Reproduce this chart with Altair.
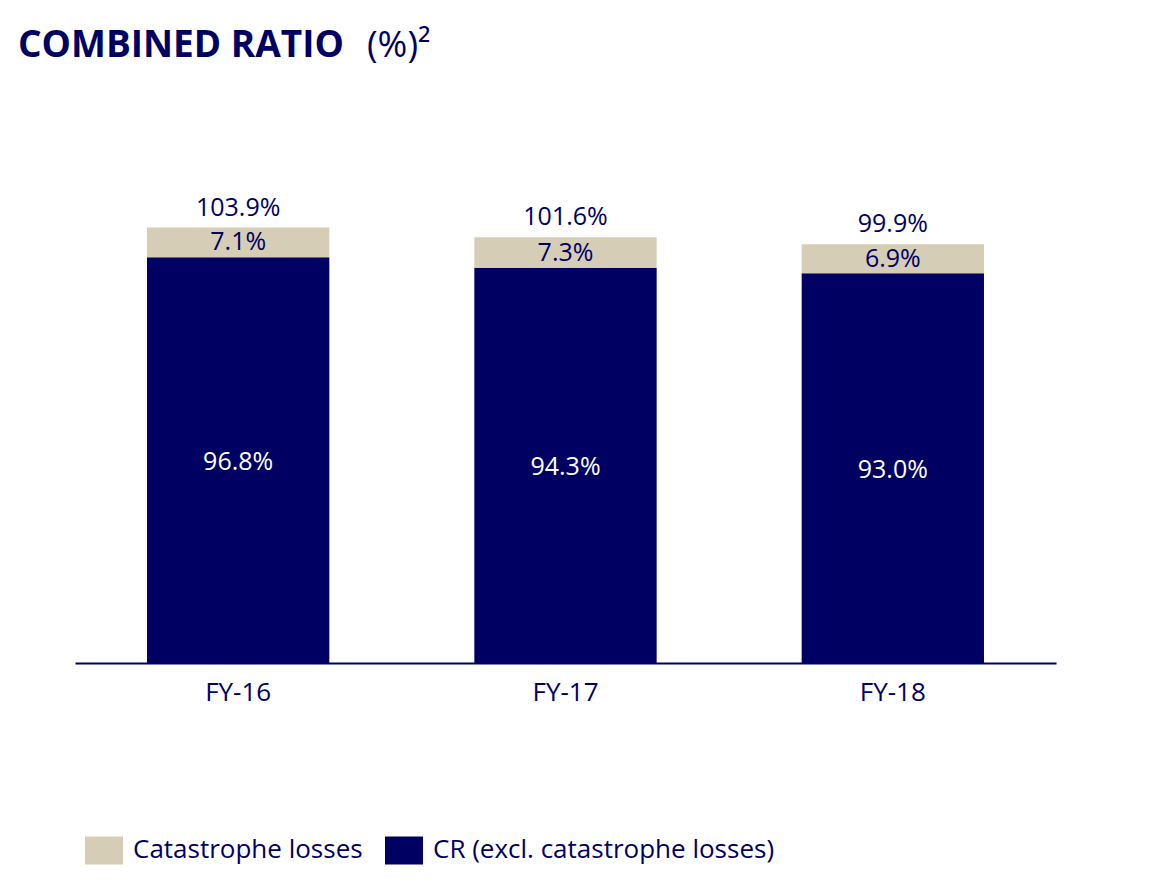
import altair as alt
import pandas as pd

years = ["FY-16", "FY-17", "FY-18"]
cr_excl = [96.8, 94.3, 93.0]
cat_losses = [7.1, 7.3, 6.9]
totals = [103.9, 101.6, 99.9]
series = ["Catastrophe losses", "CR (excl. catastrophe losses)"]
title_main = ["COMBINED RATIO"]
title_suffix = ["(%)²"]

NAVY = "#000062"
BEIGE = "#d5cdb5"
FONT = "Open Sans"

rows = []
for i, yr in enumerate(years):
    rows.append({"year": yr, "series": series[1], "value": cr_excl[i], "order": 0})
    rows.append({"year": yr, "series": series[0], "value": cat_losses[i], "order": 1})
df = pd.DataFrame(rows)
tot = pd.DataFrame({"year": years, "total": totals})

x_enc = alt.X(
    "year:N",
    sort=years,
    title=None,
    scale=alt.Scale(paddingInner=0.443, paddingOuter=0.22),
    axis=alt.Axis(
        labelAngle=0, ticks=False, domainColor=NAVY, domainWidth=2,
        labelFont=FONT, labelFontSize=26, labelColor=NAVY, labelPadding=16,
    ),
)
y_scale = alt.Scale(domain=[0, 110], nice=False, zero=True)

bars = alt.Chart(df).mark_bar().encode(
    x=x_enc,
    y=alt.Y("value:Q", stack="zero", scale=y_scale, axis=None),
    color=alt.Color(
        "series:N",
        scale=alt.Scale(domain=series, range=[BEIGE, NAVY]),
        legend=alt.Legend(
            title=None, orient="none", legendX=10, legendY=629,
            direction="horizontal",
            symbolType="M-1,-0.737H1V0.737H-1Z", symbolSize=1444,
            symbolStrokeWidth=0, symbolOpacity=1,
            labelFont=FONT, labelFontSize=26, labelColor=NAVY,
            labelOffset=10, columnPadding=22, labelLimit=0,
        ),
    ),
    order=alt.Order("order:Q"),
)

seg = (
    alt.Chart(df)
    .transform_stack(stack="value", groupby=["year"], sort=[alt.SortField("order")], as_=["v0", "v1"])
    .transform_calculate(mid="(datum.v0 + datum.v1) / 2", label="format(datum.value, '.1f') + '%'")
)

cat_txt = seg.transform_filter(alt.datum.series == series[0]).mark_text(
    font=FONT, fontSize=25, color=NAVY, baseline="middle"
).encode(x=x_enc, y=alt.Y("mid:Q", scale=y_scale), text="label:N")

cr_txt = seg.transform_filter(alt.datum.series == series[1]).mark_text(
    font=FONT, fontSize=25, color="white", baseline="middle", dy=2
).encode(x=x_enc, y=alt.Y("mid:Q", scale=y_scale), text="label:N")

tot_txt = alt.Chart(tot).transform_calculate(
    label="format(datum.total, '.1f') + '%'"
).mark_text(font=FONT, fontSize=25, color=NAVY, baseline="alphabetic", dy=-12).encode(
    x=x_enc, y=alt.Y("total:Q", scale=y_scale), text="label:N"
)

title_txt = alt.Chart(pd.DataFrame({"t": title_main})).mark_text(
    font=FONT, fontSize=37, fontWeight="bold", color=NAVY, align="left", baseline="alphabetic"
).encode(x=alt.value(-57), y=alt.value(-145), text="t:N")

suffix = alt.Chart(pd.DataFrame({"t": title_suffix})).mark_text(
    font=FONT, fontSize=36, color=NAVY, align="left", baseline="alphabetic"
).encode(x=alt.value(292), y=alt.value(-145), text="t:N")

chart = (
    alt.layer(bars, cat_txt, cr_txt, tot_txt, title_txt, suffix)
    .properties(
        width=981,
        height=461,
        autosize=alt.AutoSizeParams(type="none"),
        padding={"left": 67, "top": 194, "right": 80, "bottom": 215},
    )
    .configure_view(stroke=None)
)

chart.save("out.html", embed_options={"renderer": "svg", "actions": False})
